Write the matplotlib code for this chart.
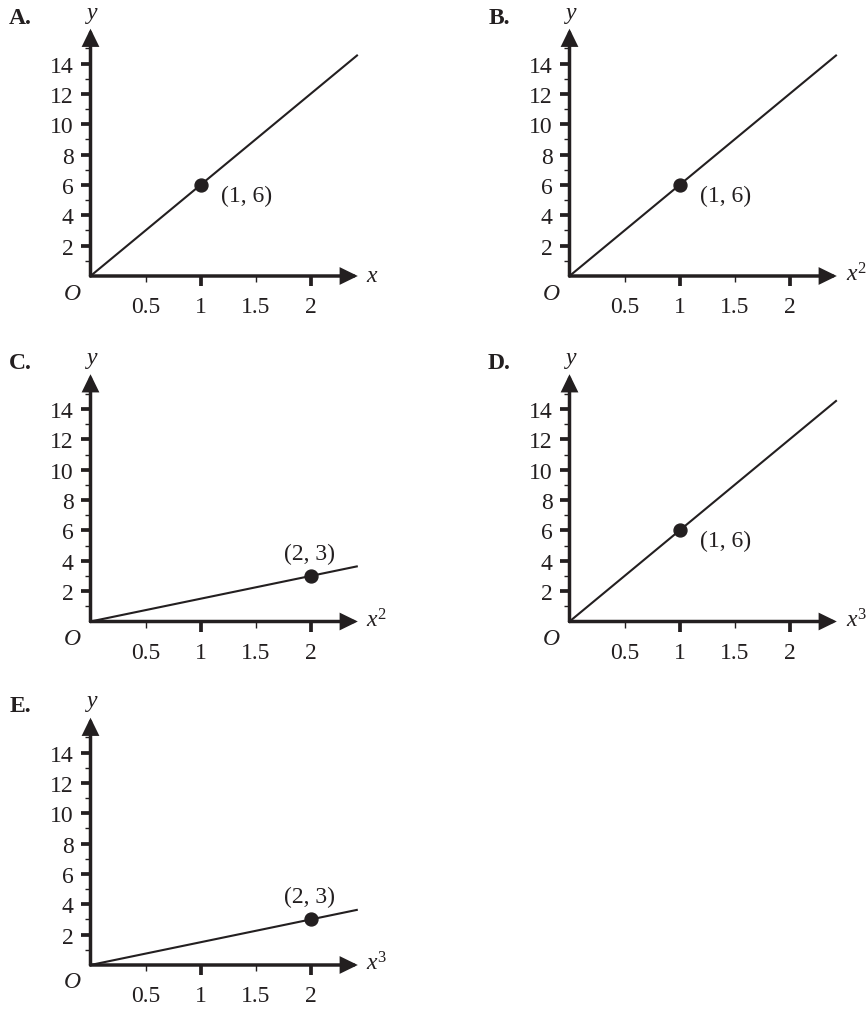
import matplotlib
matplotlib.use("Agg")
import matplotlib.pyplot as plt
import numpy as np

# ---- data ----
panel_labels = ["A.", "B.", "C.", "D.", "E."]
x_axis_labels = [r"$x$", r"$x^2$", r"$x^2$", r"$x^3$", r"$x^3$"]
slopes = [6, 6, 1.5, 6, 1.5]
points_x = [1, 1, 2, 1, 2]
points_y = [6, 6, 3, 6, 3]
point_texts = ["(1, 6)", "(1, 6)", "(2, 3)", "(1, 6)", "(2, 3)"]
text_below_right = [True, True, False, True, False]
x_major = [1, 2]
x_minor = [0.5, 1.5]
y_major = [2, 4, 6, 8, 10, 12, 14]
y_minor = [1, 3, 5, 7, 9, 11, 13, 15]
x_end = 2.43

C = "#231f20"
plt.rcParams["font.family"] = ["Liberation Serif", "DejaVu Serif"]
plt.rcParams["mathtext.fontset"] = "custom"
plt.rcParams["mathtext.rm"] = "Liberation Serif"
plt.rcParams["mathtext.it"] = "Liberation Serif:italic"
plt.rcParams["mathtext.bf"] = "Liberation Serif:bold"

W, H = 868, 1012
fig = plt.figure(figsize=(W / 100, H / 100), dpi=100)

XS, YS = 110.0, 15.17  # px per unit
XMAX, YMAX = 2.43, 16.3
origins = [(90.5, 277), (569.5, 277), (90.5, 622.5), (569.5, 622.5), (90.5, 966)]
FS = 17


def fx(px):
    return px / W


def fy(py):
    return 1 - py / H


for i, (ox, oy) in enumerate(origins):
    ax = fig.add_axes([fx(ox), fy(oy), XMAX * XS / W, YMAX * YS / H])
    ax.set_xlim(0, XMAX)
    ax.set_ylim(0, YMAX)
    ax.patch.set_visible(False)
    for s in ax.spines.values():
        s.set_visible(False)
    # axis arrows
    for tip in [(1, 0), (0, 1)]:
        ax.annotate("", xy=tip, xytext=(0, 0), xycoords="axes fraction",
                    textcoords="axes fraction",
                    arrowprops=dict(arrowstyle="-|>,head_length=0.45,head_width=0.22",
                                    lw=2.5, color=C, mutation_scale=20,
                                    shrinkA=0, shrinkB=0, joinstyle="miter"),
                    annotation_clip=False, zorder=5)
    ax.set_xticks(x_major, labels=[str(v) for v in x_major])
    ax.set_xticks(x_minor, labels=[str(v) for v in x_minor], minor=True)
    ax.set_yticks(y_major, labels=[str(v) for v in y_major])
    ax.set_yticks(y_minor, labels=[""] * len(y_minor), minor=True)
    ax.tick_params(which="major", direction="out", length=7, width=2.7,
                   color=C, labelcolor=C, labelsize=FS)
    ax.tick_params(which="minor", direction="out", length=4.5, width=1.0,
                   color=C, labelcolor=C, labelsize=FS)
    ax.tick_params(axis="x", which="major", pad=7.5)
    ax.tick_params(axis="x", which="minor", pad=7.5 + 2.5)
    ax.tick_params(axis="y", which="both", pad=5)

    xs = np.array([0, x_end])
    ax.plot(xs, slopes[i] * xs, color=C, lw=1.5, solid_capstyle="butt", clip_on=False)
    ax.plot([points_x[i]], [points_y[i]], "o", color=C, ms=9.3, clip_on=False, zorder=6)

    # point label
    ppx = ox + points_x[i] * XS
    ppy = oy - points_y[i] * YS
    if text_below_right[i]:
        fig.text(fx(ppx + 46.5), fy(ppy + 10), point_texts[i], ha="center", va="center",
                 fontsize=FS, color=C)
    else:
        fig.text(fx(ppx - 1), fy(ppy - 23), point_texts[i], ha="center", va="center",
                 fontsize=FS, color=C)

    fig.text(fx(ox - 70), fy(oy - 259), panel_labels[i], ha="center", va="center",
             fontsize=17, fontweight="bold", color=C)
    fig.text(fx(ox + 2), fy(oy - 262), r"$y$", ha="center", va="center",
             fontsize=FS, color=C)
    fig.text(fx(ox - 18), fy(oy + 17), r"$O$", ha="center", va="center",
             fontsize=FS, color=C)
    fig.text(fx(ox + 276), fy(oy + 5), x_axis_labels[i], ha="left", va="baseline",
             fontsize=FS, color=C)

fig.savefig("out.png", dpi=100, facecolor="white")
